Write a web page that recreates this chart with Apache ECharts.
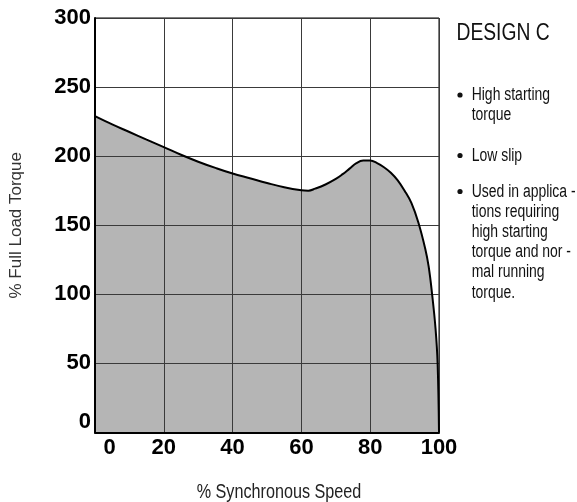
<!DOCTYPE html>
<html>
<head>
<meta charset="utf-8">
<script src="https://cdn.jsdelivr.net/npm/echarts@6/dist/echarts.min.js"></script>
<style>
  html, body { margin: 0; padding: 0; background: #fff; }
  #chart { width: 577px; height: 502px; }
</style>
</head>
<body>
<div id="chart"></div>
<script>
// % synchronous speed vs % full load torque
var speed = [0, 5, 10, 15, 20, 25, 30, 35, 40, 45, 50, 55, 60, 62, 64, 67, 70, 72, 74, 76, 78, 80, 82, 84, 86, 88, 90, 92, 94, 96, 97, 98, 99, 99.6, 100];
var torque = [229, 223, 217.5, 212, 206.6, 201, 196, 191.5, 187.4, 184, 180.6, 177.5, 175.3, 175, 176.5, 179.5, 183.5, 187, 191, 195, 196.8, 196.8, 195, 192, 188, 182.5, 175, 166, 152, 133, 120, 100, 75, 50, 0];
var xTicks = [0, 20, 40, 60, 80, 100];
var yTicks = [0, 50, 100, 150, 200, 250, 300];
var headline = 'DESIGN C';
var xTitle = '% Synchronous Speed';
var yTitle = '% Full Load Torque';
var bullets = ['High starting\ntorque', 'Low slip', 'Used in applica -\ntions requiring\nhigh starting\ntorque and nor -\nmal running\ntorque.'];

var curve = [];
for (var i = 0; i < speed.length; i++) {
  curve.push([speed[i], torque[i]]);
}

var tickFont = 'Liberation Sans, Arial, sans-serif';

// condensed look: regular sans squeezed horizontally
var bulletY = [95, 155.5, 191.5];
var graphics = [{
  type: 'text', x: 456.5, y: 33.5, scaleX: 0.82,
  style: { text: headline, font: '23.5px Liberation Sans, Arial, sans-serif', fill: '#111', align: 'left', verticalAlign: 'middle' }
}, {
  type: 'text', x: 279, y: 493, scaleX: 0.83,
  style: { text: xTitle, font: '19.5px Liberation Sans, Arial, sans-serif', fill: '#222', align: 'center', verticalAlign: 'middle' }
}];
for (var b = 0; b < bullets.length; b++) {
  graphics.push({
    type: 'circle', shape: { cx: 460, cy: bulletY[b], r: 2.6 },
    style: { fill: '#111' }
  });
  graphics.push({
    type: 'text', x: 471.7, y: bulletY[b] - 10, scaleX: 0.775,
    style: { text: bullets[b], font: '18px Liberation Sans, Arial, sans-serif', fill: '#111', lineHeight: 20.2, align: 'left', verticalAlign: 'top' }
  });
}

var myechart = echarts.init(document.getElementById('chart'));
var config = {
  animation: false,
  grid: {
    left: 94, top: 18, width: 345, height: 414.5,
    show: true, borderColor: '#000', borderWidth: 1
  },
  xAxis: {
    type: 'value', min: 0, max: 100, interval: 20, z: 2,
    axisLine: { show: true, lineStyle: { color: '#000', width: 2 } },
    axisTick: { show: false },
    splitLine: { show: true, lineStyle: { color: '#3a3a3a', width: 1 } },
    axisLabel: {
      margin: 4,
      fontFamily: tickFont, fontSize: 22, fontWeight: 'bold', color: '#000',
      formatter: function (v) { return v === 0 ? '{first|0}' : String(v); },
      rich: { first: { fontFamily: tickFont, fontSize: 22, fontWeight: 'bold', color: '#000', padding: [0, 0, 0, 29] } }
    }
  },
  yAxis: {
    type: 'value', min: 0, max: 300, interval: 50, z: 2,
    name: yTitle, nameLocation: 'middle', nameGap: 70,
    nameTextStyle: { fontFamily: tickFont, fontSize: 17, color: '#333' },
    axisLine: { show: true, lineStyle: { color: '#000', width: 2 } },
    axisTick: { show: false },
    splitLine: { show: true, lineStyle: { color: '#3a3a3a', width: 1 } },
    axisLabel: {
      margin: 4,
      fontFamily: tickFont, fontSize: 22, fontWeight: 'bold', color: '#000',
      formatter: function (v) { return v === 0 ? '{zero|0}' : String(v); },
      rich: { zero: { fontFamily: tickFont, fontSize: 22, fontWeight: 'bold', color: '#000', padding: [0, 0, 22, 0] } }
    }
  },
  graphic: graphics,
  series: [
    {
      type: 'line', data: curve, z: 1, smooth: 0.4,
      symbol: 'none', lineStyle: { width: 0 },
      areaStyle: { color: '#b5b5b5', opacity: 1 }
    },
    {
      type: 'line', data: curve, z: 3, smooth: 0.4,
      symbol: 'none', lineStyle: { color: '#000', width: 2 }
    }
  ]
};
myechart.setOption(config);
</script>
</body>
</html>
